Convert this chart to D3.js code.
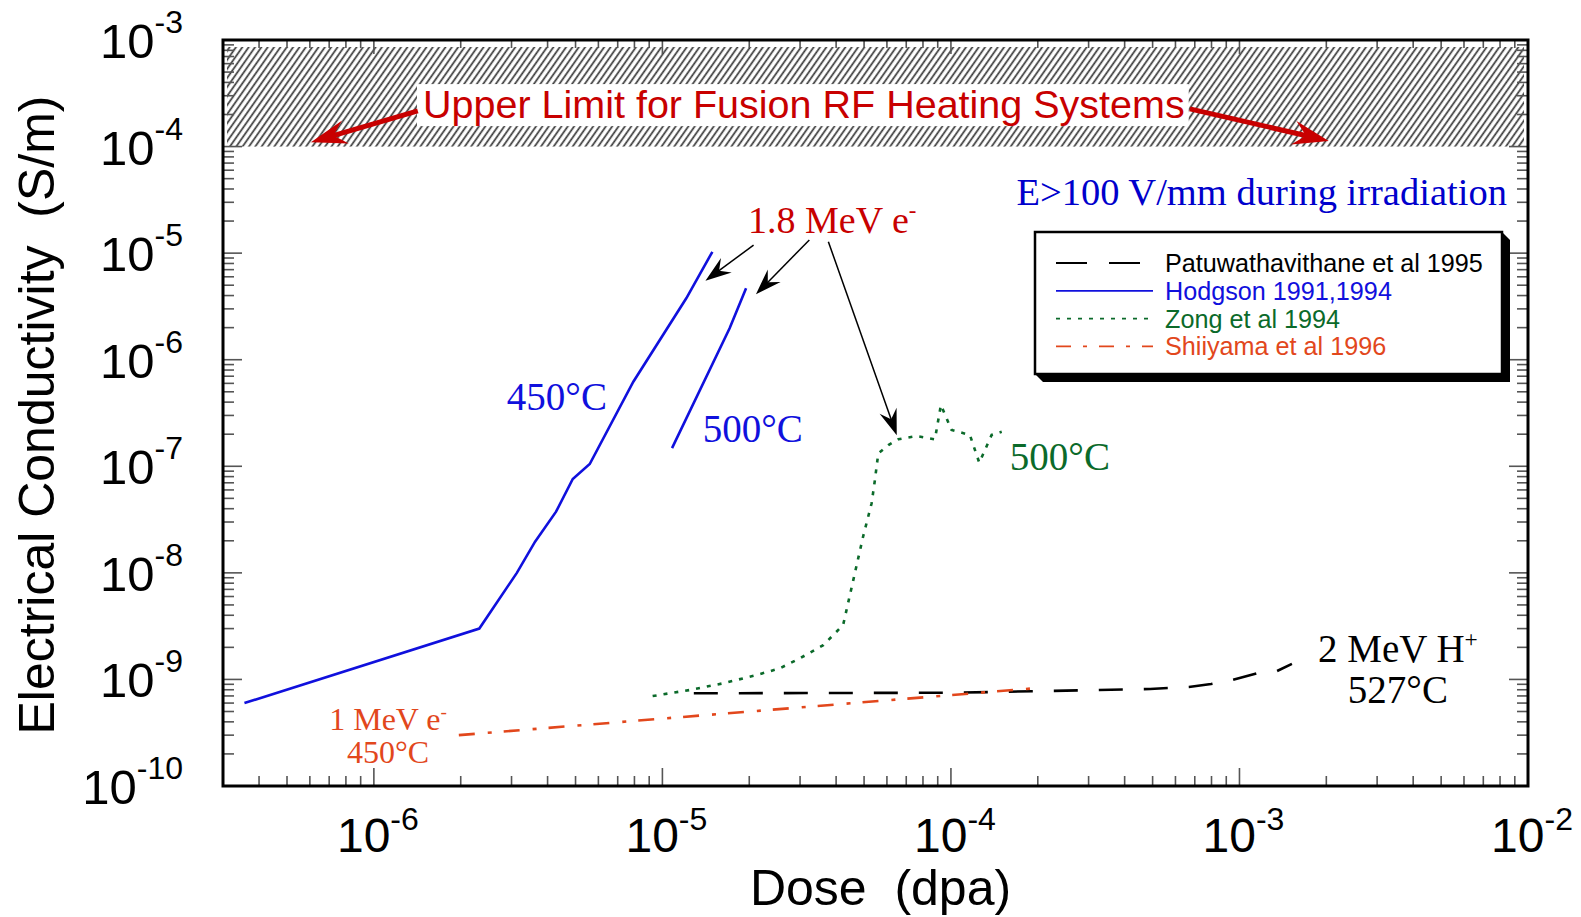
<!DOCTYPE html>
<html>
<head>
<meta charset="utf-8">
<script src="https://cdn.jsdelivr.net/npm/d3@7"></script>
<style>
  body { margin: 0; background: #fff; }
  svg { display: block; }
</style>
</head>
<body>
<div id="chart"></div>
<script>
// tick decades
const xDecades = [-6, -5, -4, -3, -2];
const yDecades = [-3, -4, -5, -6, -7, -8, -9, -10];

// Hodgson 1991,1994 - 450C
const hodg450Dose = [3.56e-7, 2.32e-6, 3.13e-6, 3.62e-6, 4.28e-6, 4.89e-6, 5.6e-6, 7.93e-6, 1.21e-5, 1.49e-5];
const hodg450Cond = [6.0e-10, 3.0e-9, 1.0e-8, 1.96e-8, 3.75e-8, 7.6e-8, 1.05e-7, 6.22e-7, 3.77e-6, 1.03e-5];
// Hodgson - 500C
const hodg500Dose = [1.08e-5, 1.71e-5, 1.95e-5];
const hodg500Cond = [1.48e-7, 1.97e-6, 4.68e-6];
// Zong et al 1994
const zongDose = [9.25e-6, 1.245e-5, 1.625e-5, 2.12e-5, 2.55e-5, 3.0e-5, 3.61e-5, 4.23e-5, 4.59e-5, 4.96e-5, 5.31e-5, 5.45e-5, 5.6e-5, 6.07e-5, 6.57e-5, 7.6e-5, 8.8e-5, 9.23e-5, 1.005e-4, 1.163e-4, 1.254e-4, 1.384e-4, 1.5e-4];
const zongCond = [6.98e-10, 7.96e-10, 9.2e-10, 1.1e-9, 1.27e-9, 1.58e-9, 2.1e-9, 3.24e-9, 8.6e-9, 2.18e-8, 4.5e-8, 7.4e-8, 1.32e-7, 1.58e-7, 1.79e-7, 1.92e-7, 1.79e-7, 3.76e-7, 2.19e-7, 1.97e-7, 1.08e-7, 1.97e-7, 2.11e-7];
// Patuwathavithane et al 1995
const patuDose = [1.285e-5, 1.023e-4, 4.9e-4, 6.68e-4, 7.97e-4, 9.5e-4, 1.16e-3, 1.35e-3, 1.52e-3];
const patuCond = [7.41e-10, 7.5e-10, 8.13e-10, 8.5e-10, 9.06e-10, 9.9e-10, 1.15e-9, 1.2e-9, 1.4e-9];
// Shiiyama et al 1996
const shiiDose = [1.97e-6, 2.01e-5, 1.99e-4];
const shiiCond = [3.0e-10, 5.0e-10, 8.3e-10];

const legendNames = ["Patuwathavithane et al 1995", "Hodgson 1991,1994", "Zong et al 1994", "Shiiyama et al 1996"];

const W = 1581, H = 917;
const margin = { top: 40, left: 223, right: 53, bottom: 131 };

const x = d3.scaleLog().domain([3e-7, 1e-2]).range([margin.left, W - margin.right]);
const y = d3.scaleLog().domain([1e-10, 1e-3]).range([H - margin.bottom, margin.top]);

const svg = d3.select('#chart').append('svg')
    .attr('width', W)
    .attr('height', H);

const defs = svg.append('defs');
// hatch pattern
defs.append('pattern')
    .attr('id', 'hatch')
    .attr('patternUnits', 'userSpaceOnUse')
    .attr('width', 5.2).attr('height', 10)
    .attr('patternTransform', 'rotate(35)')
    .append('line')
    .attr('x1', 2).attr('y1', 0).attr('x2', 2).attr('y2', 10)
    .attr('stroke', '#3a3a3a').attr('stroke-width', 1.7);
defs.append('clipPath').attr('id', 'plotclip')
    .append('rect')
    .attr('x', margin.left).attr('y', margin.top)
    .attr('width', W - margin.left - margin.right)
    .attr('height', H - margin.top - margin.bottom);

const sans = 'Liberation Sans, Arial, Helvetica, sans-serif';
const serif = 'Liberation Serif, Times New Roman, serif';

// hatched upper limit band
svg.append('rect')
    .attr('x', x.range()[0] + 4)
    .attr('y', y(1e-3) + 7)
    .attr('width', x.range()[1] - x.range()[0] - 8)
    .attr('height', y(1e-4) - y(1e-3) - 7)
    .attr('fill', 'url(#hatch)');

// ticks
const minor = (lo, hi) => {
    let out = [];
    for (let e = lo; e < hi; e++) for (let k = 2; k <= 9; k++) out.push(k * Math.pow(10, e));
    return out;
};
const xMinor = minor(-7, -2).filter(v => v > 3e-7 && v < 1e-2);
const yMinor = minor(-10, -3);
const tickG = svg.append('g').attr('stroke', '#555').attr('stroke-width', 1.6);
const xr = x.range(), yr = y.range();
xMinor.forEach(v => {
    tickG.append('line').attr('x1', x(v)).attr('x2', x(v)).attr('y1', yr[0]).attr('y2', yr[0] - 10);
    tickG.append('line').attr('x1', x(v)).attr('x2', x(v)).attr('y1', yr[1]).attr('y2', yr[1] + 8);
});
xDecades.forEach(e => {
    const v = Math.pow(10, e);
    tickG.append('line').attr('x1', x(v)).attr('x2', x(v)).attr('y1', yr[0]).attr('y2', yr[0] - 18);
    tickG.append('line').attr('x1', x(v)).attr('x2', x(v)).attr('y1', yr[1]).attr('y2', yr[1] + 14);
});
yMinor.forEach(v => {
    tickG.append('line').attr('y1', y(v)).attr('y2', y(v)).attr('x1', xr[0]).attr('x2', xr[0] + 11);
    tickG.append('line').attr('y1', y(v)).attr('y2', y(v)).attr('x1', xr[1]).attr('x2', xr[1] - 11);
});
yDecades.forEach(e => {
    const v = Math.pow(10, e);
    tickG.append('line').attr('y1', y(v)).attr('y2', y(v)).attr('x1', xr[0]).attr('x2', xr[0] + 19);
    tickG.append('line').attr('y1', y(v)).attr('y2', y(v)).attr('x1', xr[1]).attr('x2', xr[1] - 19);
});

// tick labels
const xLab = svg.append('g').selectAll('text').data(xDecades).join('text')
    .attr('x', d => x(Math.pow(10, d)) + 4)
    .attr('y', yr[0] + 66)
    .attr('text-anchor', 'middle')
    .attr('font-family', sans).attr('font-size', 48).attr('fill', '#000');
xLab.append('tspan').text('10');
xLab.append('tspan').attr('dy', -22).attr('font-size', 32).text(d => d);

const yLab = svg.append('g').selectAll('text').data(yDecades).join('text')
    .attr('x', 183)
    .attr('y', d => y(Math.pow(10, d)) + 18)
    .attr('text-anchor', 'end')
    .attr('font-family', sans).attr('font-size', 49).attr('fill', '#000');
yLab.append('tspan').text('10');
yLab.append('tspan').attr('dy', -25).attr('font-size', 32).text(d => d);

// axis titles
svg.append('text')
    .attr('x', (xr[0] + xr[1]) / 2 + 5).attr('y', 905)
    .attr('text-anchor', 'middle')
    .attr('font-family', sans).attr('font-size', 50)
    .attr('style', 'white-space:pre')
    .text('Dose  (dpa)');
svg.append('text')
    .attr('transform', 'translate(54,415) rotate(-90)')
    .attr('text-anchor', 'middle')
    .attr('font-family', sans).attr('font-size', 50)
    .attr('style', 'white-space:pre')
    .text('Electrical Conductivity  (S/m)');

// data lines
const line = d3.line().x(d => x(d[0])).y(d => y(d[1]));
const plot = svg.append('g').attr('clip-path', 'url(#plotclip)');
const zip = (a, b) => a.map((v, i) => [v, b[i]]);

const series = [
    { pts: zip(patuDose, patuCond), color: '#000', dash: '24,21' },
    { pts: zip(shiiDose, shiiCond), color: '#e2471c', dash: '16,13,4,12' },
    { pts: zip(zongDose, zongCond), color: '#0b6a2a', dash: '4,7' },
    { pts: zip(hodg450Dose, hodg450Cond), color: '#1010dd', dash: null },
    { pts: zip(hodg500Dose, hodg500Cond), color: '#1010dd', dash: null }
];
series.forEach(s => {
    plot.append('path')
        .attr('d', line(s.pts))
        .attr('fill', 'none')
        .attr('stroke', s.color)
        .attr('stroke-width', 2.6)
        .attr('stroke-dasharray', s.dash);
});

// arrows
function arrow(from, to, color, width, L, Wd) {
    const x1 = x(from[0]), y1 = y(from[1]), x2 = x(to[0]), y2 = y(to[1]);
    const ang = Math.atan2(y2 - y1, x2 - x1);
    const len = Math.hypot(x2 - x1, y2 - y1);
    const g = svg.append('g').attr('transform', `translate(${x2},${y2}) rotate(${ang * 180 / Math.PI})`);
    g.append('line').attr('x1', -len).attr('y1', 0).attr('x2', -L * 0.6).attr('y2', 0)
        .attr('stroke', color).attr('stroke-width', width);
    g.append('path')
        .attr('d', `M0,0 L${-L},${-Wd} L${-L * 0.65},0 L${-L},${Wd} Z`)
        .attr('fill', color);
}

// upper limit label on white box
const ulBox = svg.append('rect').attr('fill', '#fff');
const ulText = svg.append('text')
    .attr('x', x(1.48e-6)).attr('y', y(1.85e-4))
    .attr('font-family', sans).attr('font-size', 39.5).attr('fill', '#c80000')
    .text('Upper Limit for Fusion RF Heating Systems');
const bb = ulText.node().getBBox();
ulBox.attr('x', bb.x - 6).attr('y', bb.y + 2)
    .attr('width', bb.width + 10).attr('height', bb.height - 2);

arrow([1.42e-6, 2.16e-4], [6.05e-7, 1.1e-4], '#c80000', 5, 36, 12);
arrow([6.73e-4, 2.26e-4], [2.04e-3, 1.13e-4], '#c80000', 5, 36, 12);
arrow([2.07e-5, 1.19e-5], [1.41e-5, 5.51e-6], '#000', 1.5, 26, 9);
arrow([3.23e-5, 1.33e-5], [2.11e-5, 4.11e-6], '#000', 1.5, 26, 9);
arrow([3.76e-5, 1.28e-5], [6.49e-5, 1.96e-7], '#000', 1.5, 26, 9);

// annotation labels
function label(pos, txt, sup, color, size, anchor) {
    const t = svg.append('text')
        .attr('x', x(pos[0])).attr('y', y(pos[1]))
        .attr('text-anchor', anchor || 'start')
        .attr('font-family', serif).attr('font-size', size).attr('fill', color)
        .text(txt);
    if (sup) {
        t.append('tspan').attr('dy', -size * 0.38).attr('font-size', size * 0.6).text(sup);
    }
    return t;
}
label([8.45e-3, 2.83e-5], 'E>100 V/mm during irradiation', null, '#0000cc', 38.5, 'end');
label([1.98e-5, 1.55e-5], '1.8 MeV e', '-', '#c80000', 38, 'start');
label([2.89e-6, 3.4e-7], '450°C', null, '#1010dd', 39, 'start');
label([1.38e-5, 1.69e-7], '500°C', null, '#1010dd', 39, 'start');
label([1.6e-4, 9.2e-8], '500°C', null, '#0b6a2a', 39, 'start');
label([1.12e-6, 3.35e-10], '1 MeV e', '-', '#e2471c', 32, 'middle');
label([1.12e-6, 1.64e-10], '450°C', null, '#e2471c', 32, 'middle');
label([3.54e-3, 1.46e-9], '2 MeV H', '+', '#000', 39, 'middle');
label([3.54e-3, 6.0e-10], '527°C', null, '#000', 39, 'middle');

// legend
const lg = { x0: 1035, y0: 232, x1: 1502, y1: 374, sh: 8 };
svg.append('polygon')
    .attr('points', [
        [lg.x1, lg.y0], [lg.x1 + lg.sh, lg.y0 + lg.sh], [lg.x1 + lg.sh, lg.y1 + lg.sh],
        [lg.x0 + lg.sh, lg.y1 + lg.sh], [lg.x0, lg.y1]
    ].map(p => p.join(',')).join(' '))
    .attr('fill', '#000');
svg.append('rect')
    .attr('x', lg.x0).attr('y', lg.y0)
    .attr('width', lg.x1 - lg.x0).attr('height', lg.y1 - lg.y0)
    .attr('fill', '#fff').attr('stroke', '#000').attr('stroke-width', 2.5);
const legStyles = [
    { color: '#000', dash: '31,22', text: '#000' },
    { color: '#1010dd', dash: null, text: '#1010dd' },
    { color: '#0b6a2a', dash: '4,7', text: '#0b6a2a' },
    { color: '#e2471c', dash: '15,12,4,12', text: '#e2471c' }
];
legendNames.forEach((name, i) => {
    const by = 272 + i * 27.8;
    svg.append('line')
        .attr('x1', 1056).attr('x2', 1153)
        .attr('y1', by - 9).attr('y2', by - 9)
        .attr('stroke', legStyles[i].color).attr('stroke-width', 1.8)
        .attr('stroke-dasharray', legStyles[i].dash);
    svg.append('text')
        .attr('x', 1165).attr('y', by)
        .attr('font-family', sans).attr('font-size', 25.2)
        .attr('fill', legStyles[i].text)
        .text(name);
});

// frame
svg.append('rect')
    .attr('x', xr[0]).attr('y', yr[1])
    .attr('width', xr[1] - xr[0]).attr('height', yr[0] - yr[1])
    .attr('fill', 'none').attr('stroke', '#000').attr('stroke-width', 3);
</script>
</body>
</html>
